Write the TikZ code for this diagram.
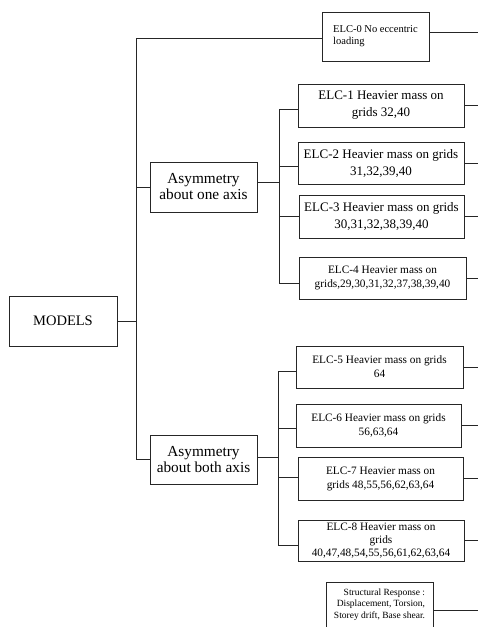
\documentclass[tikz,border=0pt]{standalone}
\usepackage{fontspec}
\setmainfont{Liberation Serif}
\begin{document}
\begin{tikzpicture}[x=1pt,y=-1pt,
  box/.style={draw=black!85, line width=0.9pt, inner sep=0pt, align=center},
  conn/.style={draw=black!85, line width=0.9pt},
  fbig/.style={font=\fontsize{13}{17}\selectfont},
  fmid/.style={font=\fontsize{11.3}{14}\selectfont},
  fasym/.style={font=\fontsize{15.3}{16}\selectfont},
  fsmall/.style={font=\fontsize{10.5}{12}\selectfont},
  ftiny/.style={font=\fontsize{9.5}{11.5}\selectfont}]
\useasboundingbox (0,0) rectangle (478,627);
\fill[white] (0,0) rectangle (478,627);
% nodes
\node[box, fsmall, align=left, minimum width=107, minimum height=49] (elc0) at (375.5,36.5) {ELC-0 No eccentric\\loading};
\node[box, fbig, minimum width=166, minimum height=43] (elc1) at (381,105.5) {ELC-1 Heavier mass on\\grids 32,40};
\node[box, fbig, minimum width=166, minimum height=42] (elc2) at (381,163) {ELC-2 Heavier mass on grids\\31,32,39,40};
\node[box, fbig, minimum width=165, minimum height=43] (elc3) at (381.5,216.5) {ELC-3 Heavier mass on grids\\30,31,32,38,39,40};
\node[box, fmid, minimum width=167, minimum height=42] (elc4) at (382.5,278) {ELC-4 Heavier mass on\\grids,29,30,31,32,37,38,39,40};
\node[box, fasym, minimum width=107, minimum height=50] (asym1) at (203.5,187) {Asymmetry\\about one axis};
\node[box, font=\fontsize{14.5}{15}\selectfont, minimum width=108, minimum height=50] (models) at (63,321) {MODELS};
\node[box, fasym, minimum width=107, minimum height=49] (asym2) at (203.5,459.5) {Asymmetry\\about both axis};
\node[box, fmid, minimum width=167, minimum height=42] (elc5) at (379.5,367) {ELC-5 Heavier mass on grids\\64};
\node[box, fmid, minimum width=165, minimum height=43] (elc6) at (378.5,425.5) {ELC-6 Heavier mass on grids\\56,63,64};
\node[box, fmid, minimum width=165, minimum height=43] (elc7) at (380.5,478.5) {ELC-7 Heavier mass on\\grids 48,55,56,62,63,64};
\node[box, font=\fontsize{11.3}{13}\selectfont, minimum width=166, minimum height=41] (elc8) at (381,540.5) {ELC-8 Heavier mass on\\grids\\40,47,48,54,55,56,61,62,63,64};
\node[box, ftiny, align=right, minimum width=107, minimum height=58] (sr) at (379.5,611) {Structural Response :\\Displacement, Torsion,\\Storey drift, Base shear.\\\strut};
% trunk coordinates
\coordinate (ta) at (136,38);
\coordinate (tb) at (136,459.5);
\coordinate (sa) at (279,109);
\coordinate (sb) at (279,283);
\coordinate (sc) at (278,371);
\coordinate (sd) at (278,545);
\coordinate (edge) at (478,0);
% main trunk
\draw[conn] (models.east) -- (models.east -| ta);
\draw[conn] (elc0.west |- ta) -- (ta) -- (tb) -- (asym2.west);
\draw[conn] (asym1.west) -- (asym1.west -| ta);
% first group
\draw[conn] (elc1.west |- sa) -- (sa) -- (sb) -- (elc4.west |- sb);
\draw[conn] ([yshift=5pt]asym1.east) -- ([yshift=5pt]asym1.east -| sa);
\draw[conn] ([yshift=-3pt]elc2.west) -- ([yshift=-3pt]elc2.west -| sa);
\draw[conn] (elc3.west) -- (elc3.west -| sa);
% second group
\draw[conn] (elc5.west |- sc) -- (sc) -- (sd) -- (elc8.west |- sd);
\draw[conn] ([yshift=2.5pt]asym2.east) -- ([yshift=2.5pt]asym2.east -| sc);
\draw[conn] ([yshift=-2.5pt]elc6.west) -- ([yshift=-2.5pt]elc6.west -| sc);
\draw[conn] ([yshift=1.5pt]elc7.west) -- ([yshift=1.5pt]elc7.west -| sc);
% right-hand stubs
\draw[conn] ([yshift=4.5pt]elc0.east) -- ([yshift=4.5pt]elc0.east -| edge);
\foreach \n in {elc1,elc2,elc3,elc4,elc5,elc6,elc7,elc8}
  \draw[conn] (\n.east) -- (\n.east -| edge);
\draw[conn] ([yshift=1pt]sr.east) -- ([yshift=1pt]sr.east -| edge);
\end{tikzpicture}
\end{document}
